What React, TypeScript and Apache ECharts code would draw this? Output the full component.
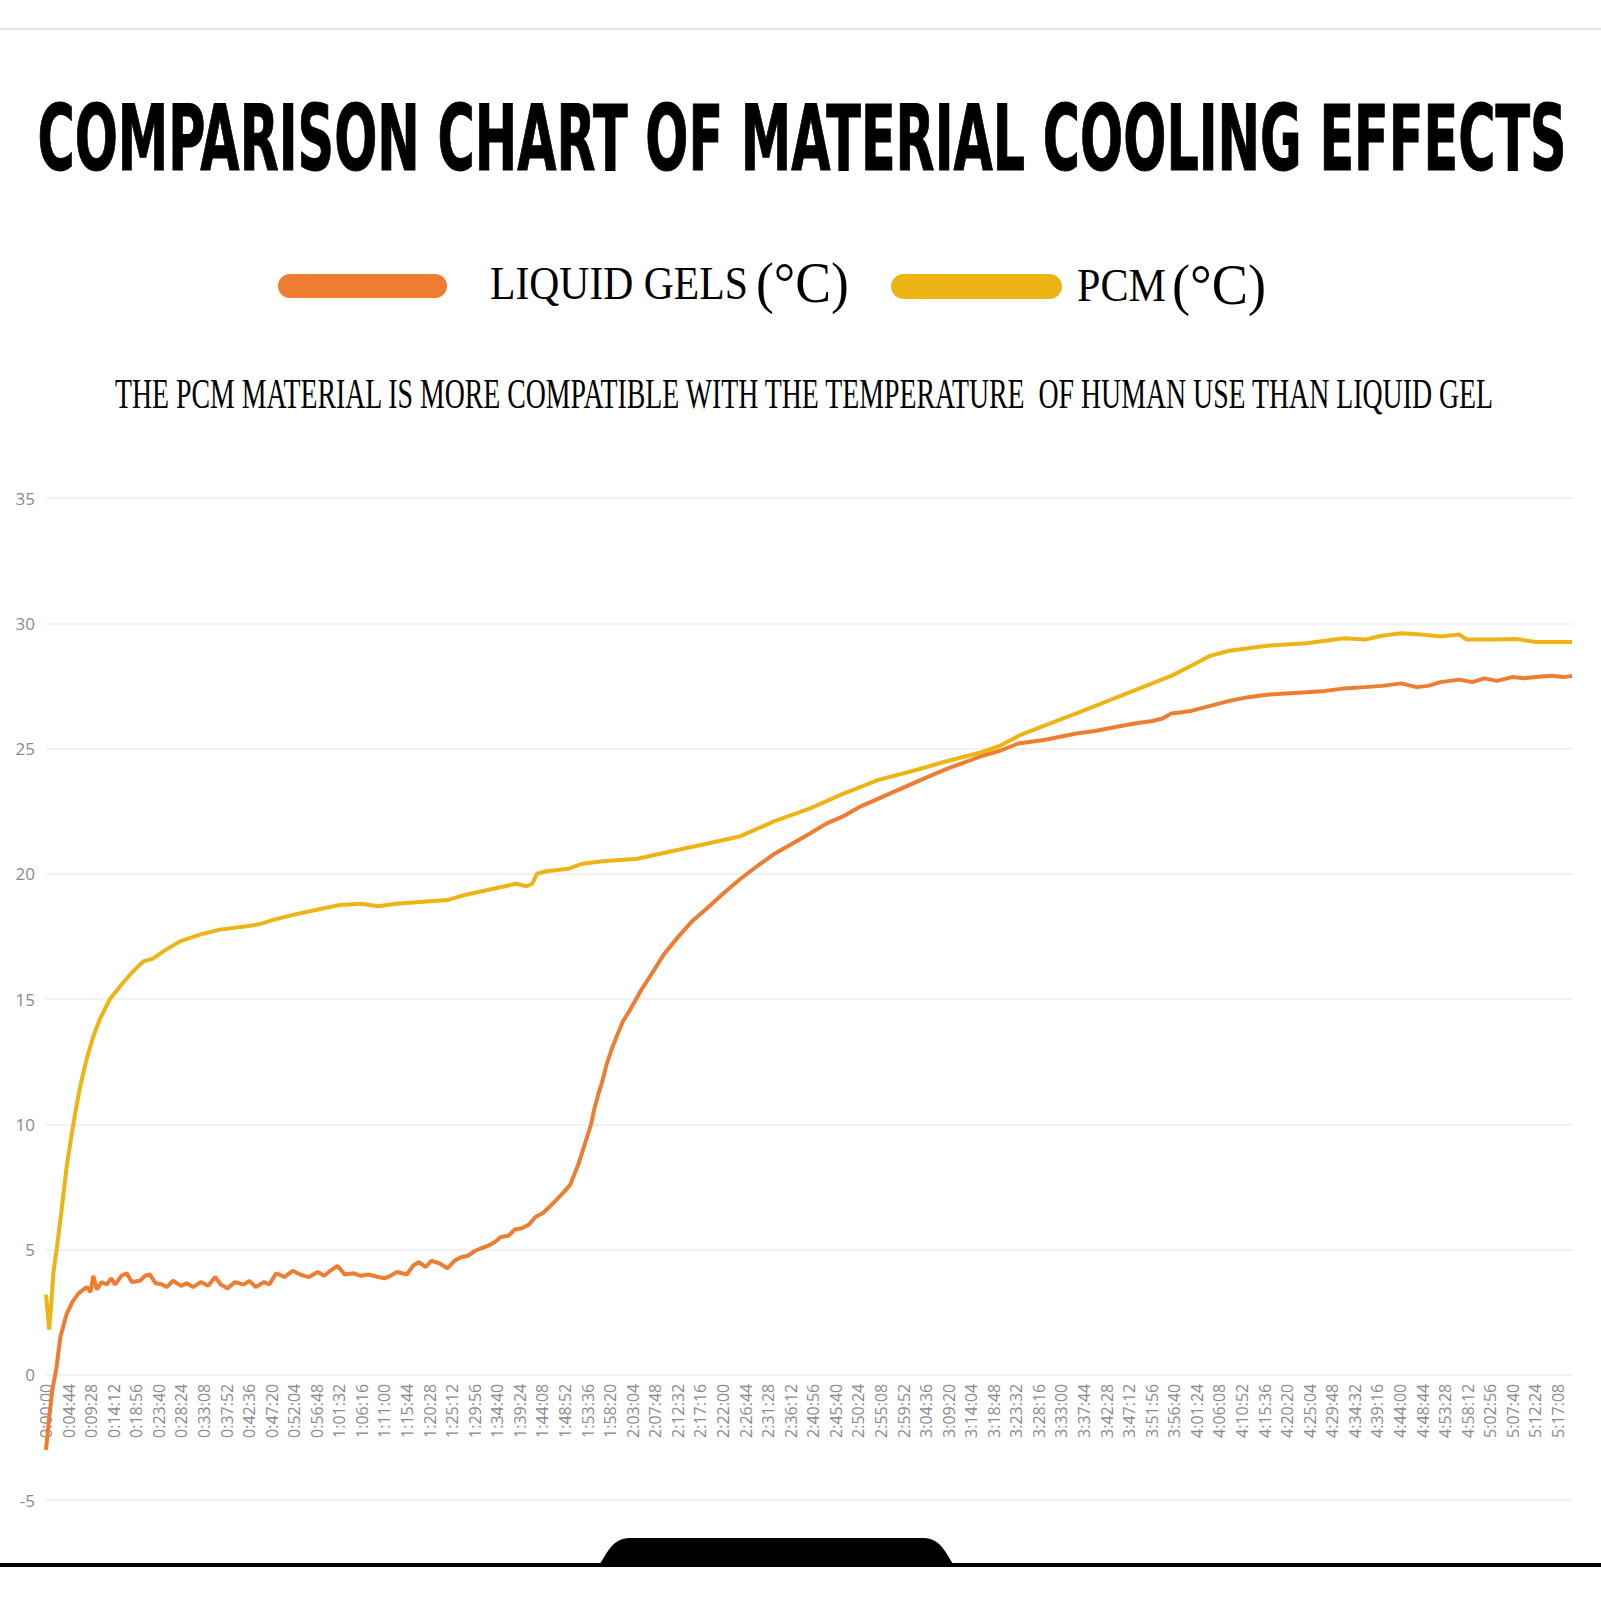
import React, { useEffect, useRef } from "react";
import * as echarts from "echarts";

// ---- data ----
const TITLE = "COMPARISON CHART OF MATERIAL COOLING EFFECTS";
const SUBTITLE =
  "THE PCM MATERIAL IS MORE COMPATIBLE WITH THE TEMPERATURE  OF HUMAN USE THAN LIQUID GEL";
const SERIES_NAMES = ["LIQUID GELS", "PCM"];
const UNIT = "(°C)";

// elapsed seconds / temperature (°C)
const gelTimes = [
  0, 40, 80, 128, 180, 257, 330, 410, 470, 512, 560, 595, 640, 700, 763, 820, 870, 949, 1015, 1080,
  1182, 1250, 1308, 1380, 1462, 1518, 1600, 1700, 1770, 1850, 1950, 2040, 2129, 2200, 2283, 2380,
  2488, 2560, 2640, 2745, 2810, 2898, 3000, 3104, 3200, 3309, 3420, 3500, 3600, 3668, 3760, 3873,
  3960, 4060, 4181, 4260, 4335, 4420, 4540, 4620, 4694, 4780, 4850, 4950, 5053, 5140, 5230, 5310,
  5400, 5480, 5566, 5650, 5723, 5823, 5900, 5990, 6079, 6160, 6250, 6336, 6430, 6520, 6600, 6650,
  6700, 6760, 6810, 6860, 6900, 6951, 7000, 7056, 7120, 7182, 7260, 7357, 7480, 7622, 7780, 7961,
  8130, 8313, 8520, 8741, 8950, 9169, 9390, 9609, 9820, 10037, 10260, 10477, 10690, 10905, 11120,
  11345, 11560, 11773, 11998, 12237, 12577, 12967, 13200, 13445, 13700, 13923, 14050, 14162, 14413,
  14652, 14891, 15130, 15369, 15600, 15860, 16100, 16338, 16600, 16816, 17055, 17250, 17390, 17550,
  17784, 17950, 18100, 18262, 18450, 18600, 18752, 18950, 19100, 19205,
];
const gelTemps = [
  -3.0, -1.7, -0.6, 0.2, 1.5, 2.4, 2.9, 3.25, 3.4, 3.5, 3.3, 3.95, 3.4, 3.7, 3.6, 3.85, 3.6, 3.95, 4.05,
  3.7, 3.75, 3.95, 4.0, 3.65, 3.6, 3.5, 3.75, 3.55, 3.65, 3.5, 3.7, 3.55, 3.9, 3.6, 3.45, 3.7, 3.6, 3.75,
  3.5, 3.7, 3.6, 4.05, 3.9, 4.15, 4.0, 3.9, 4.1, 3.95, 4.2, 4.35, 4.0, 4.05, 3.95, 4.0, 3.9, 3.85, 3.95,
  4.1, 4.0, 4.35, 4.5, 4.3, 4.55, 4.45, 4.25, 4.55, 4.7, 4.75, 4.95, 5.05, 5.15, 5.3, 5.5, 5.55, 5.8,
  5.85, 6.0, 6.3, 6.45, 6.7, 7.0, 7.3, 7.6, 8.0, 8.4, 9.0, 9.5, 10.0, 10.6, 11.2, 11.7, 12.4, 13.0, 13.5,
  14.1, 14.6, 15.3, 16.0, 16.8, 17.5, 18.1, 18.6, 19.2, 19.8, 20.3, 20.8, 21.2, 21.6, 22.0, 22.3, 22.7,
  23.0, 23.3, 23.6, 23.9, 24.2, 24.45, 24.7, 24.9, 25.2, 25.35, 25.6, 25.7, 25.85, 26.0, 26.1, 26.2,
  26.4, 26.5, 26.7, 26.9, 27.05, 27.15, 27.2, 27.25, 27.3, 27.4, 27.45, 27.5, 27.6, 27.45, 27.5, 27.65,
  27.75, 27.65, 27.8, 27.7, 27.85, 27.8, 27.85, 27.9, 27.85, 27.9,
];

const pcmTimes = [
  0, 20, 40, 70, 92, 134, 197, 260, 323, 365, 430, 511, 595, 679, 805, 931, 1056, 1224, 1340, 1475,
  1580, 1685, 1937, 2188, 2524, 2700, 2859, 3110, 3405, 3698, 3969, 4186, 4402, 4619, 4835, 5052,
  5268, 5485, 5701, 5918, 6048, 6120, 6178, 6300, 6578, 6754, 7006, 7446, 7873, 8313, 8741, 9169,
  9609, 10037, 10477, 10905, 11345, 11773, 12000, 12237, 12476, 12967, 13445, 13923, 14162, 14413,
  14652, 14891, 15130, 15369, 15860, 16338, 16600, 16816, 17055, 17307, 17550, 17784, 17880, 18262,
  18500, 18752, 19000, 19205,
];
const pcmTemps = [
  3.2, 2.5, 1.8, 3.0, 4.05, 5.0, 6.6, 8.3, 9.6, 10.4, 11.5, 12.6, 13.5, 14.2, 15.0, 15.5, 15.97, 16.5,
  16.6, 16.9, 17.1, 17.3, 17.57, 17.77, 17.9, 18.0, 18.16, 18.36, 18.56, 18.75, 18.8, 18.7, 18.8,
  18.85, 18.9, 18.95, 19.15, 19.3, 19.45, 19.6, 19.5, 19.6, 20.0, 20.1, 20.2, 20.4, 20.5, 20.6, 20.9,
  21.2, 21.5, 22.1, 22.6, 23.2, 23.75, 24.1, 24.5, 24.85, 25.1, 25.5, 25.8, 26.4, 27.0, 27.6, 27.9,
  28.3, 28.7, 28.9, 29.0, 29.1, 29.2, 29.4, 29.35, 29.5, 29.6, 29.55, 29.47, 29.55, 29.35, 29.35, 29.37,
  29.25, 29.25, 29.25,
];

const X_STEP = 284; // 0:04:44 between time labels
const X_MAX = 19205;
const Y_MIN = -5;
const Y_MAX = 35;
const Y_STEP = 5;

const GEL_COLOR = "#ED7D31";
const PCM_COLOR = "#EDB416";

const TITLE_FONT = "'Liberation Sans Narrow', 'DejaVu Sans Condensed', 'Liberation Sans', sans-serif";
const SERIF = "'Liberation Serif', 'DejaVu Serif', serif";
const AXIS_FONT = "'Open Sans', 'Noto Sans', sans-serif";

// plot box (px)
const GRID_LEFT = 46;
const GRID_RIGHT = 29;
const GRID_TOP = 498;
const GRID_BOTTOM = 101;

function pad(n: number) {
  return n < 10 ? "0" + n : String(n);
}
function fmtTime(v: number) {
  const s = Math.round(v);
  const h = Math.floor(s / 3600);
  const m = Math.floor((s % 3600) / 60);
  const sec = s % 60;
  return `${h}:${pad(m)}:${pad(sec)}`;
}

function fit(text: string, font: string, target: number) {
  const c = document.createElement("canvas").getContext("2d");
  if (!c) return 1;
  c.font = font;
  const w = c.measureText(text).width;
  return w > 0 ? target / w : 1;
}

function txt(
  text: string,
  x: number,
  y: number,
  size: number,
  family: string,
  weight: string,
  align: string,
  targetW: number | null,
  extra: any = {}
) {
  const sx = targetW ? fit(text, `${weight} ${size}px ${family}`, targetW) : 1;
  return {
    type: "text",
    x,
    y,
    scaleX: sx,
    scaleY: 1,
    silent: true,
    style: {
      text,
      fontSize: size,
      fontFamily: family,
      fontWeight: weight,
      fill: "#000",
      align,
      textAlign: align,
      verticalAlign: "middle",
      textVerticalAlign: "middle",
      ...extra,
    },
  };
}

export default function App() {
  const ref = useRef<HTMLDivElement>(null);

  useEffect(() => {
    const el = ref.current;
    if (!el) return;
    echarts.graphic.registerShape(
      "bottomTab",
      echarts.graphic.extendPath(
        "M598 1567 C606 1556 611 1538 630 1538 L923 1538 C942 1538 947 1556 955 1567 Z",
        {}
      )
    );
    const chart = echarts.init(el, null, { renderer: "svg", width: 1601, height: 1601 });

    const gelData = gelTimes.map((t, i) => [t, gelTemps[i]]);
    const pcmData = pcmTimes.map((t, i) => [t, pcmTemps[i]]);

    // move the time axis up from the plot bottom to the 0 °C line
    const plotH = 1601 - GRID_TOP - GRID_BOTTOM;
    const zeroOffset = -plotH * (0 - Y_MIN) / (Y_MAX - Y_MIN);

    const option: any = {
      animation: false,
      backgroundColor: "#ffffff",
      grid: { left: GRID_LEFT, right: GRID_RIGHT, top: GRID_TOP, bottom: GRID_BOTTOM, containLabel: false },
      xAxis: {
        type: "value",
        min: 0,
        max: X_MAX,
        interval: X_STEP,
        position: "bottom",
        offset: zeroOffset,
        axisLine: { show: false, onZero: false },
        axisTick: { show: false },
        splitLine: { show: false },
        axisLabel: {
          rotate: 90,
          formatter: (v: number) => fmtTime(v),
          color: "#8a8a8a",
          fontSize: 16,
          fontFamily: AXIS_FONT,
          margin: 9,
          showMinLabel: true,
          showMaxLabel: false,
        },
      },
      yAxis: {
        type: "value",
        min: Y_MIN,
        max: Y_MAX,
        interval: Y_STEP,
        axisLine: { show: false },
        axisTick: { show: false },
        splitLine: { show: true, lineStyle: { color: "#ececec", width: 1.5 } },
        axisLabel: { color: "#8a8a8a", fontSize: 17, fontFamily: AXIS_FONT, margin: 11 },
      },
      series: [
        {
          name: SERIES_NAMES[0],
          type: "line",
          data: gelData,
          symbol: "none",
          smooth: false,
          lineStyle: { color: GEL_COLOR, width: 4 },
          itemStyle: { color: GEL_COLOR },
        },
        {
          name: SERIES_NAMES[1],
          type: "line",
          data: pcmData,
          symbol: "none",
          smooth: false,
          lineStyle: { color: PCM_COLOR, width: 4 },
          itemStyle: { color: PCM_COLOR },
        },
      ],
      graphic: [
        // top thin grey rule
        { type: "rect", silent: true, shape: { x: 0, y: 28, width: 1601, height: 2 }, style: { fill: "#e3e3ea" } },
        // title
        txt(TITLE, 802, 139, 90, TITLE_FONT, "bold", "center", 1529, { stroke: "#000", lineWidth: 1 }),
        // legend
        { type: "rect", silent: true, shape: { x: 278, y: 274, width: 169, height: 24, r: 12 }, style: { fill: GEL_COLOR } },
        txt(SERIES_NAMES[0], 490, 283, 47, SERIF, "normal", "left", 258),
        txt(UNIT, 756, 282, 58, SERIF, "normal", "left", 93),
        { type: "rect", silent: true, shape: { x: 891, y: 274, width: 171, height: 25, r: 12.5 }, style: { fill: PCM_COLOR } },
        txt(SERIES_NAMES[1], 1077, 285, 47, SERIF, "normal", "left", 89),
        txt(UNIT, 1172, 284, 58, SERIF, "normal", "left", 94),
        // subtitle
        txt(SUBTITLE, 115, 394, 43, SERIF, "normal", "left", 1381),
        // bottom black bar with tab
        { type: "rect", silent: true, shape: { x: 0, y: 1563, width: 1601, height: 4 }, style: { fill: "#000" } },
        { type: "bottomTab", silent: true, x: 0, y: 0, style: { fill: "#000" } },
      ],
    };

    chart.setOption(option);
    return () => chart.dispose();
  }, []);

  return (
    <div
      ref={ref}
      style={{ position: "absolute", left: 0, top: 0, width: 1601, height: 1601, background: "#fff" }}
    />
  );
}
